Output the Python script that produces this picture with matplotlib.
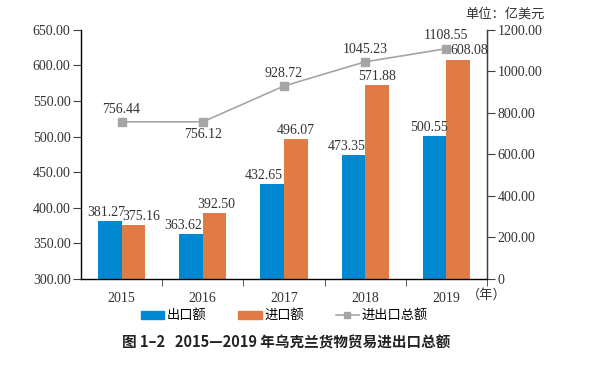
import numpy as np
import matplotlib.pyplot as plt
from matplotlib.patches import Patch
from matplotlib.lines import Line2D

plt.rcParams['font.family'] = ['Liberation Serif', 'Noto Sans CJK SC']

years = ['2015', '2016', '2017', '2018', '2019']
exports = [381.27, 363.62, 432.65, 473.35, 500.55]
imports = [375.16, 392.50, 496.07, 571.88, 608.08]
total = [756.44, 756.12, 928.72, 1045.23, 1108.55]
left_ticks = [300, 350, 400, 450, 500, 550, 600, 650]
right_ticks = [0, 200, 400, 600, 800, 1000, 1200]

blue = '#0088d1'
orange = '#e07b45'
grey = '#a5a5a5'
axc = '#404040'
txt = '#333333'

fig = plt.figure(figsize=(5.95, 3.66), dpi=100)
ax = fig.add_axes([0.136, 0.2377, 0.6825, 0.6813])
x = np.arange(len(years))
w = 0.29

ax.bar(x - w / 2, exports, w, color=blue, zorder=2)
ax.bar(x + w / 2, imports, w, color=orange, zorder=2)

# label nudges so neighbouring numbers don't collide
exp_shift = [-0.04, -0.09, -0.1, -0.08, -0.07]
imp_shift = [0.1, 0.02, 0.0, 0.0, 0.14]
for xi, v, s in zip(x, exports, exp_shift):
    ax.text(xi - w / 2 + s, v + 3, f'{v:.2f}', ha='center', va='bottom', fontsize=10, color=txt)
for xi, v, s in zip(x, imports, imp_shift):
    ax.text(xi + w / 2 + s, v + 3, f'{v:.2f}', ha='center', va='bottom', fontsize=10, color=txt)

ax.set_ylim(300, 650)
ax.set_xlim(-0.5, 4.5)
ax.set_yticks(left_ticks)
ax.set_yticklabels([f'{t:.2f}' for t in left_ticks])
ax.set_xticks(x)
ax.set_xticklabels(years)
ax.tick_params(axis='x', which='major', length=0, pad=9, labelsize=10, labelcolor=txt)
ax.set_xticks([0.5, 1.5, 2.5, 3.5, 4.5], minor=True)
ax.tick_params(axis='x', which='minor', length=5, color=axc, direction='out')
ax.tick_params(axis='y', length=5.5, color=axc, labelsize=10, pad=2, labelcolor=txt)
ax.spines['top'].set_visible(False)
for s in ['left', 'bottom', 'right']:
    ax.spines[s].set_color(axc)
    ax.spines[s].set_linewidth(1.0)

ax2 = ax.twinx()
ax2.plot(x, total, color=grey, lw=1.2, marker='s', ms=5.5, zorder=3)
ax2.set_ylim(0, 1200)
ax2.set_yticks(right_ticks)
ax2.set_yticklabels(['0'] + [f'{t:.2f}' for t in right_ticks[1:]])
ax2.tick_params(axis='y', length=5.5, color=axc, labelsize=10, pad=2, labelcolor=txt)
ax2.spines['top'].set_visible(False)
ax2.spines['right'].set_color(axc)
offs = [1, -1, 1, 1, 1]
for xi, v, o in zip(x, total, offs):
    if o > 0:
        ax2.text(xi, v + 30, f'{v:.2f}', ha='center', va='bottom', fontsize=10, color=txt)
    else:
        ax2.text(xi, v - 30, f'{v:.2f}', ha='center', va='top', fontsize=10, color=txt)

fig.text(0.915, 0.978, '单位：亿美元', ha='right', va='top', fontsize=9.5, color=txt,
         family=['Noto Sans CJK SC'])
fig.text(0.8185, 0.194, '（年）', ha='center', va='center', fontsize=9.5, color=txt,
         family=['Noto Sans CJK SC'])

handles = [Patch(color=blue), Patch(color=orange),
           Line2D([], [], color=grey, marker='s', ms=5, lw=1.2)]
fig.legend(handles, ['出口额', '进口额', '进出口总额'], loc='center', ncol=3,
           bbox_to_anchor=(0.478, 0.137), frameon=False, handlelength=1.75, handleheight=0.6,
           handletextpad=0.2, columnspacing=2.4,
           prop={'family': 'Noto Sans CJK SC', 'size': 9.5})

fig.text(0.481, 0.065, '图 1–2   2015—2019 年乌克兰货物贸易进出口总额', ha='center', va='center',
         fontsize=10.5, fontweight='bold', family=['Noto Sans CJK SC', 'DejaVu Sans'], color='#222222')

fig.savefig('out.png', dpi=100)
